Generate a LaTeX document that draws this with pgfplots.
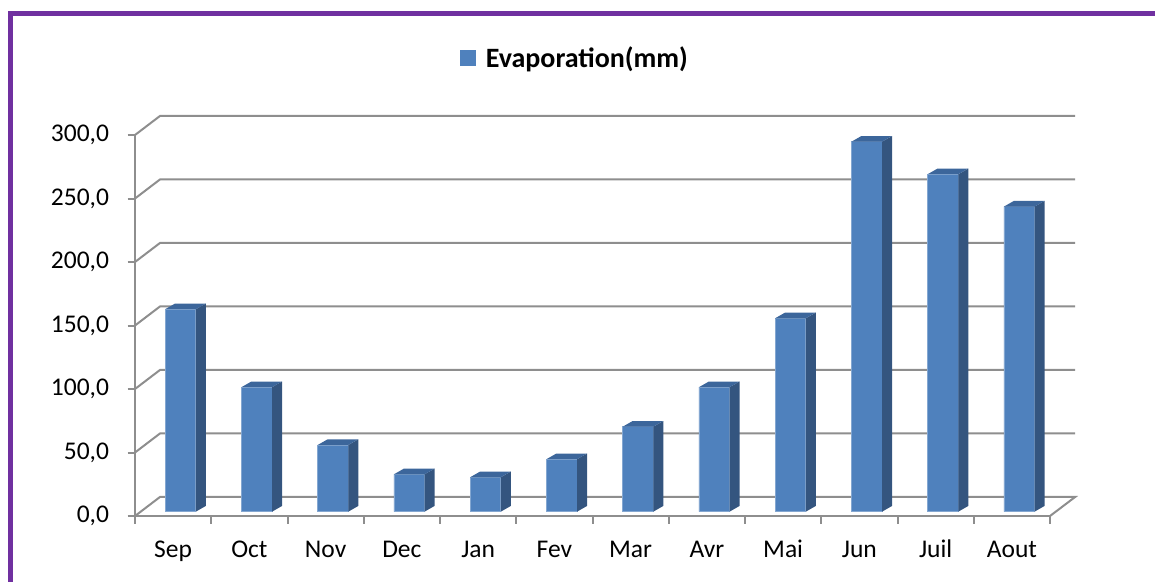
\documentclass[border=0pt]{standalone}
\usepackage{pgfplots}
\usepackage{pgfplotstable}
\pgfplotsset{compat=1.18}
\usepackage{fontspec}
\setmainfont{Carlito}
\definecolor{barfront}{HTML}{4F81BD}
\definecolor{barside}{HTML}{34557F}
\definecolor{bartop}{HTML}{3C669B}
\definecolor{gridgray}{HTML}{8E8E8E}
\definecolor{framepurple}{HTML}{7030A0}

\pgfplotstableread{
idx month val
0  Sep  159.4
1  Oct  98.0
2  Nov  52.5
3  Dec  29.4
4  Jan  27.1
5  Fev  41.3
6  Mar  66.9
7  Avr  98.0
8  Mai  152.3
9  Jun  291.3
10 Juil 265.7
11 Aout 240.2
}\datatable

% one column drawn as three faces, from its index and value
\newcommand\cuboid[2]{%
  \pgfmathsetmacro\xa{#1+0.395}%
  \pgfmathsetmacro\xb{#1+0.797}%
  \pgfmathsetmacro\xc{#1+0.928}%
  \pgfmathsetmacro\xd{#1+0.526}%
  \pgfmathsetmacro\yb{3.4}%
  \pgfmathsetmacro\ybb{3.4+4.5}%
  \pgfmathsetmacro\yt{#2+3.4}%
  \pgfmathsetmacro\ytt{#2+3.4+4.5}%
  \edef\doit{%
    \noexpand\addplot[fill=barfront,draw=barfront!70!white,line width=0.6pt] coordinates {(\xa,\yb) (\xb,\yb) (\xb,\yt) (\xa,\yt) (\xa,\yb)};
    \noexpand\addplot[fill=barside,draw=none] coordinates {(\xb,\yb) (\xc,\ybb) (\xc,\ytt) (\xb,\yt)};
    \noexpand\addplot[fill=bartop,draw=none] coordinates {(\xa,\yt) (\xb,\yt) (\xc,\ytt) (\xd,\ytt)};
  }%
  \doit
}

\begin{document}
\begin{tikzpicture}[x=1pt,y=1pt]
\path[use as bounding box] (0,0) rectangle (1155,581);
\draw[framepurple, line width=5pt] (10,-5) -- (10,567.5) -- (1165,567.5);
\begin{axis}[
  at={(135pt,65pt)}, anchor=south west,
  scale only axis, width=915pt, height=381pt,
  xmin=0, xmax=12, ymin=0, ymax=300,
  clip=false,
  axis x line*=bottom, axis y line*=left,
  axis line style={gridgray, line width=2pt},
  tick style={gridgray, line width=2pt},
  tick align=outside,
  major tick length=7.5pt,
  xtick={0,1,...,12}, xticklabels={},
  extra x ticks={0.5,1.5,2.5,3.5,4.5,5.5,6.5,7.5,8.5,9.5,10.5,11.5},
  extra x tick labels={Sep,Oct,Nov,Dec,Jan,Fev,Mar,Avr,Mai,Jun,Juil,Aout},
  extra x tick style={major tick length=0pt},
  ytick={0,50,...,300},
  /pgf/number format/fixed, /pgf/number format/fixed zerofill,
  /pgf/number format/precision=1, /pgf/number format/use comma,
  /pgf/number format/assume math mode=true,
  tick label style={font=\fontsize{25.5}{30}\selectfont, text=black},
  xticklabel style={yshift=-21pt, text height=17pt, text depth=6pt},
  yticklabel style={xshift=-15pt},
  legend style={at={(0.481,1.202)}, anchor=center, draw=none, fill=none,
    font=\bfseries\fontsize{28}{32}\selectfont, inner sep=0pt,
    /tikz/every odd column/.append style={column sep=8pt}},
  legend image code/.code={\fill[barfront] (0pt,-7.5pt) rectangle (15pt,7.5pt);},
]
\addlegendimage{barfront}
\addlegendentry{Evaporation(mm)}
% back wall, side wall and floor
\addplot[gridgray, line width=2pt] coordinates {(0,0) (0.328,15) (12.33,15) (12,0)};
\addplot[gridgray, line width=2pt] coordinates {(0,50) (0.328,65) (12.33,65)};
\addplot[gridgray, line width=2pt] coordinates {(0,100) (0.328,115) (12.33,115)};
\addplot[gridgray, line width=2pt] coordinates {(0,150) (0.328,165) (12.33,165)};
\addplot[gridgray, line width=2pt] coordinates {(0,200) (0.328,215) (12.33,215)};
\addplot[gridgray, line width=2pt] coordinates {(0,250) (0.328,265) (12.33,265)};
\addplot[gridgray, line width=2pt] coordinates {(0,300) (0.328,315) (12.33,315)};
\pgfplotsinvokeforeach{0,...,11}{%
  \pgfplotstablegetelem{#1}{val}\of\datatable
  \let\barval\pgfplotsretval
  \cuboid{#1}{\barval}
}
\end{axis}
\end{tikzpicture}
\end{document}
